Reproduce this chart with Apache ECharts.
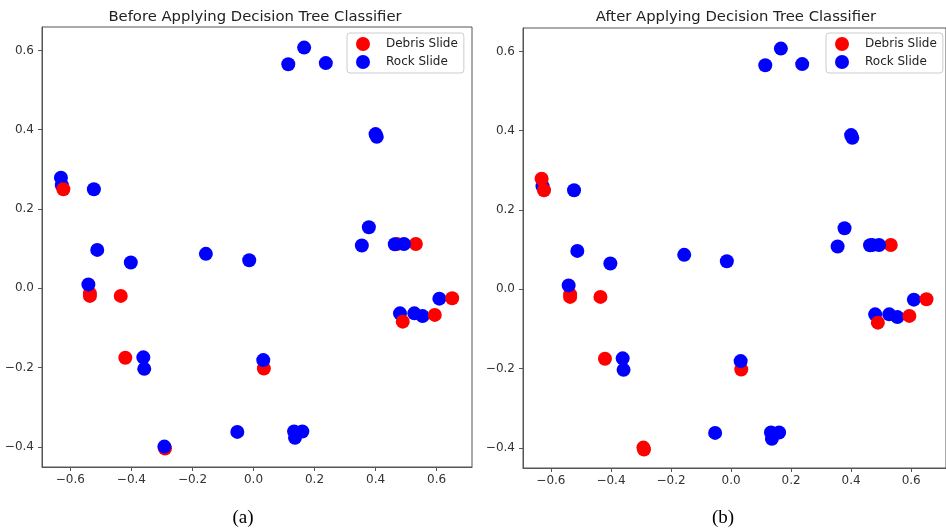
<!DOCTYPE html>
<html>
<head>
<meta charset="utf-8">
<script src="https://cdn.jsdelivr.net/npm/echarts@6/dist/echarts.min.js"></script>
<style>
  html, body { margin: 0; padding: 0; background: #fff; }
  #chart { width: 946px; height: 530px; }
</style>
</head>
<body>
<div id="chart"></div>
<script>
// points in drawing order (later ones sit on top)
var pointX = [-0.628, -0.631, -0.623, -0.523, -0.512, -0.402, -0.156, -0.014, 0.114, 0.166,
              0.237, 0.400, 0.404, 0.378, 0.355, 0.532, 0.470, 0.463, 0.493, -0.536,
              -0.536, -0.541, -0.435, -0.420, -0.361, -0.358, -0.290, -0.292, -0.053, 0.034,
              0.032, 0.133, 0.136, 0.160, 0.480, 0.489, 0.527, 0.554, 0.594, 0.609, 0.651];
var pointY = [0.260, 0.279, 0.250, 0.250, 0.097, 0.065, 0.087, 0.071, 0.565, 0.607,
              0.568, 0.389, 0.382, 0.154, 0.108, 0.112, 0.112, 0.111, 0.112, -0.013,
              -0.019, 0.010, -0.019, -0.175, -0.174, -0.203, -0.404, -0.399, -0.362, -0.202,
              -0.181, -0.361, -0.377, -0.361, -0.063, -0.084, -0.063, -0.070, -0.067, -0.026, -0.025];
// 0 = Debris Slide, 1 = Rock Slide
var classBefore = [1, 1, 0, 1, 1, 1, 1, 1, 1, 1,
                   1, 1, 1, 1, 1, 0, 0, 1, 1, 0,
                   0, 1, 0, 0, 1, 1, 0, 1, 1, 0,
                   1, 1, 1, 1, 1, 0, 1, 1, 0, 1, 0];
var classAfter  = [1, 0, 0, 1, 1, 1, 1, 1, 1, 1,
                   1, 1, 1, 1, 1, 0, 1, 1, 1, 0,
                   0, 1, 0, 0, 1, 1, 0, 0, 1, 0,
                   1, 1, 1, 1, 1, 0, 1, 1, 0, 1, 0];
var classNames = ['Debris Slide', 'Rock Slide'];
var titles = ['Before Applying Decision Tree Classifier', 'After Applying Decision Tree Classifier'];
var captions = ['(a)', '(b)'];
var xTicks = [-0.6, -0.4, -0.2, 0.0, 0.2, 0.4, 0.6];
var yTicks = [-0.4, -0.2, 0.0, 0.2, 0.4, 0.6];

var colors = ['#ff0000', '#0000ff'];
var font = 'DejaVu Sans';

function tickFmt(v) {
  return (v < -1e-9 ? '\u2212' : '') + Math.abs(v).toFixed(1);
}

function points(cls) {
  return pointX.map(function (x, i) {
    return { value: [x, pointY[i]], itemStyle: { color: colors[cls[i]] } };
  });
}

var grids = [
  { left: 42, top: 27, width: 430, height: 440 },
  { left: 523, top: 28, width: 429, height: 440 }
];

var myChart = echarts.init(document.getElementById('chart'));

var xAxes = [], yAxes = [], series = [], legends = [], titleList = [];
grids.forEach(function (g, k) {
  g.show = true;
  g.borderColor = '#555';
  g.borderWidth = 1;
  g.containLabel = false;
  xAxes.push({
    type: 'value', gridIndex: k, min: -0.693, max: 0.716,
    splitLine: { show: false },
    axisLine: { show: true, onZero: false, lineStyle: { color: '#555' } },
    axisTick: { show: true, length: 4, customValues: xTicks, lineStyle: { color: '#555' } },
    axisLabel: { customValues: xTicks, formatter: tickFmt, color: '#333', fontFamily: font, fontSize: 12, margin: 7 }
  });
  yAxes.push({
    type: 'value', gridIndex: k, min: -0.4505, max: 0.659,
    splitLine: { show: false },
    axisLine: { show: true, onZero: false, lineStyle: { color: '#555' } },
    axisTick: { show: true, length: 4, customValues: yTicks, lineStyle: { color: '#555' } },
    axisLabel: { customValues: yTicks, formatter: tickFmt, color: '#333', fontFamily: font, fontSize: 12, margin: 8 }
  });
  series.push({
    type: 'scatter', xAxisIndex: k, yAxisIndex: k,
    symbolSize: 14,
    itemStyle: { opacity: 1 },
    emphasis: { disabled: true },
    data: points(k === 0 ? classBefore : classAfter)
  });
  legends.push({
    left: k === 0 ? 347 : 826, top: 33,
    orient: 'vertical',
    icon: 'circle', itemWidth: 14, itemHeight: 14, itemGap: 4,
    padding: [4, 6, 4, 9],
    borderColor: '#ccc', borderWidth: 1, borderRadius: 3,
    backgroundColor: '#fff',
    selectedMode: false,
    textStyle: { fontFamily: font, fontSize: 12, color: '#222', padding: [0, 0, 0, 11] },
    data: classNames
  });
  titleList.push({
    text: titles[k], left: k === 0 ? 250 : 731, top: 5, textAlign: 'center',
    textStyle: { fontFamily: font, fontSize: 14.8, fontWeight: 'normal', color: '#222' }
  });
  titleList.push({
    text: captions[k], left: k === 0 ? 238 : 718, top: 504, textAlign: 'center',
    textStyle: { fontFamily: 'Liberation Serif', fontSize: 19, fontWeight: 'normal', color: '#000' }
  });
});

// empty series only for the legend swatches
classNames.forEach(function (name, c) {
  series.push({
    type: 'scatter', name: name, xAxisIndex: 0, yAxisIndex: 0,
    itemStyle: { color: colors[c], opacity: 1 }, data: []
  });
});

var option = {
  animation: false,
  backgroundColor: '#fff',
  title: titleList,
  legend: legends,
  grid: grids,
  xAxis: xAxes,
  yAxis: yAxes,
  series: series
};

myChart.setOption(option);
</script>
</body>
</html>
